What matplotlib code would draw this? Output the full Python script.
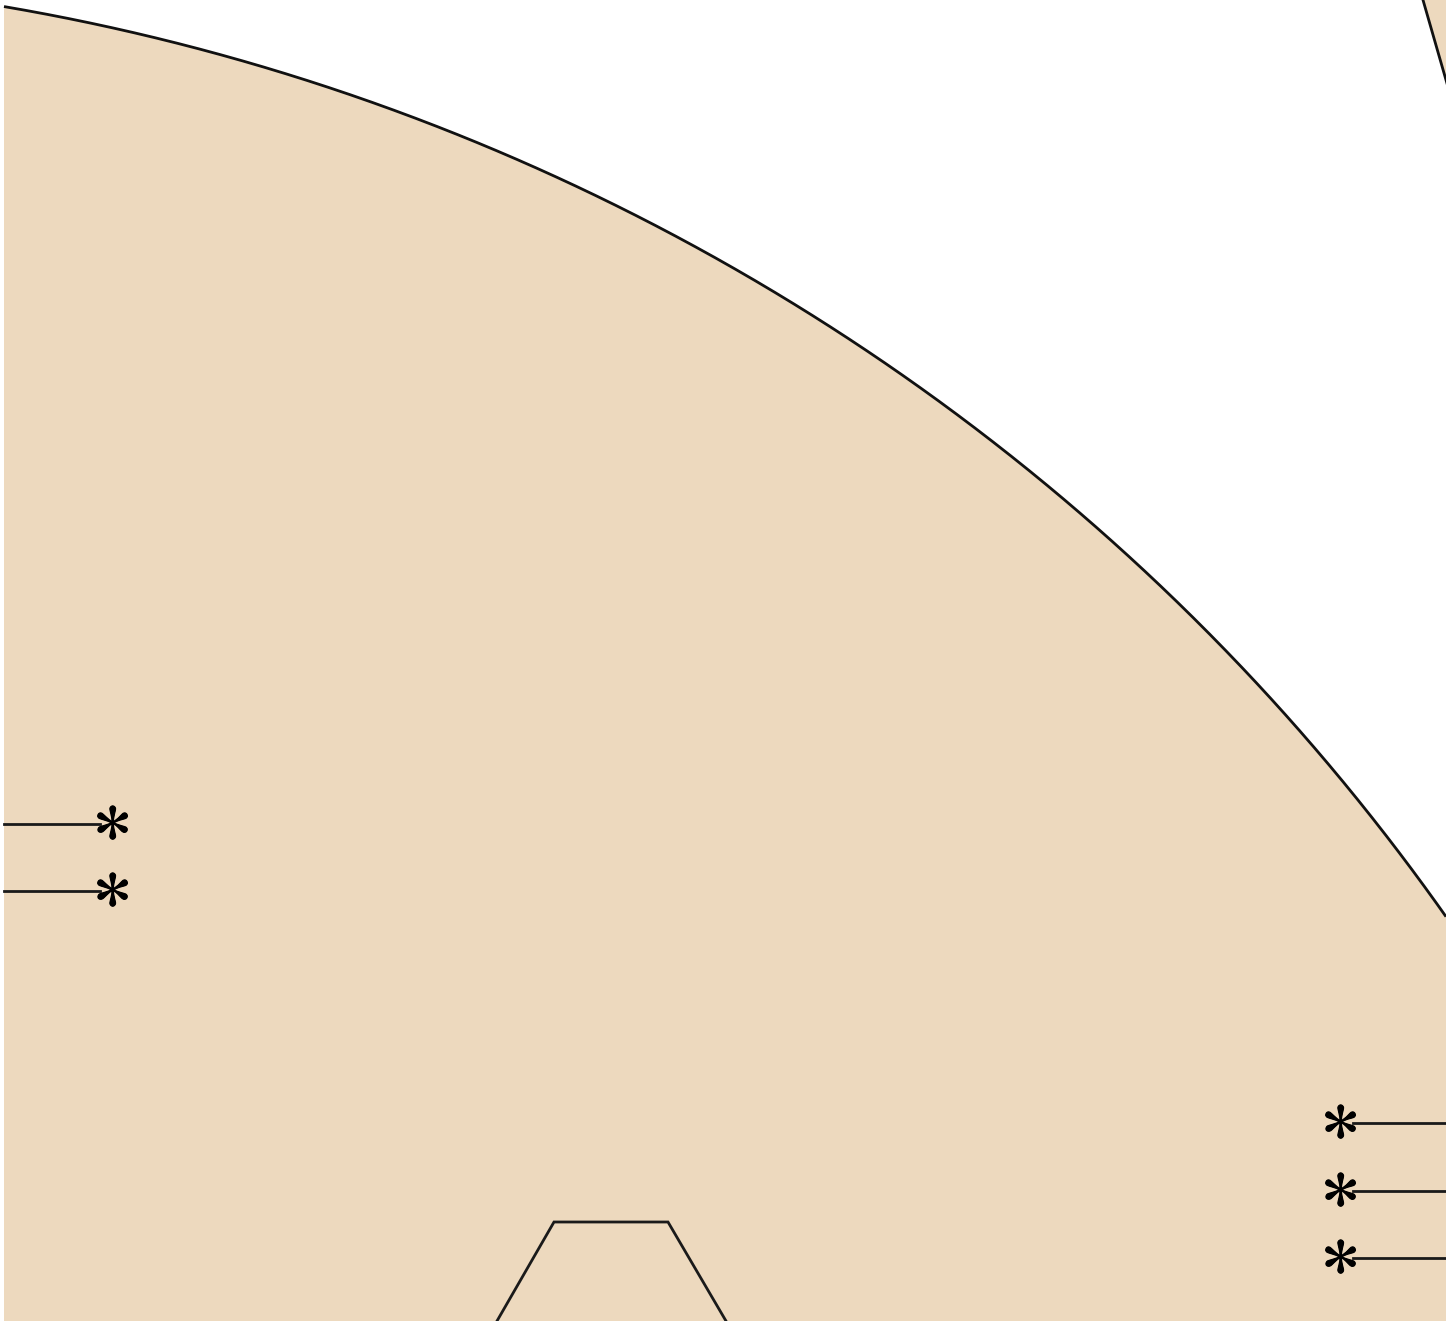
import numpy as np
import matplotlib
matplotlib.use("Agg")
import matplotlib.pyplot as plt
import matplotlib.patheffects as pe
from matplotlib.patches import Polygon

plt.rcParams['mathtext.fontset'] = 'stix'

# ---- data (in the chart's own coordinate space) ----
FILL = '#EDD9BE'
EDGE = '#111111'

arc_center_x = -369.0
arc_center_y = 2195.0
arc_radius = 2220.0
arc_x_range = [4.0, 1446.0]

left_bracket_y = [824, 891]
left_bracket_x = [4, 100]
left_star_x = 111

right_bracket_y = [1123, 1191, 1258]
right_bracket_x = [1353, 1446]
right_star_x = 1339

trap_x = [497, 554, 668, 726]
trap_y = [1321, 1222, 1222, 1321]

corner_edge_x = [1423, 1446]
corner_edge_y = [0, 80]

W, H = 1446, 1321
STAR_SIZE = 55
STAR_SHIFT = -2.5  # glyph sits slightly low when centred
LW = 2.0

fig = plt.figure(figsize=(W / 100, H / 100), dpi=100)
ax = fig.add_axes([0, 0, 1, 1])
ax.set_xlim(0, W)
ax.set_ylim(H, 0)
ax.axis('off')

# main shape bounded by arc
xs = np.linspace(arc_x_range[0], arc_x_range[1], 800)
ys = arc_center_y - np.sqrt(arc_radius ** 2 - (xs - arc_center_x) ** 2)
verts = list(zip(xs, ys)) + [(arc_x_range[1] + 20, ys[-1]), (arc_x_range[1] + 20, H + 20),
                              (arc_x_range[0], H + 20)]
ax.add_patch(Polygon(verts, closed=True, facecolor=FILL, edgecolor='none', zorder=1))
ax.plot(xs, ys, color=EDGE, lw=LW, zorder=3, solid_capstyle='butt')

# top-right corner shape
slope = (corner_edge_y[1] - corner_edge_y[0]) / (corner_edge_x[1] - corner_edge_x[0])
ext_x = corner_edge_x[1] + 20
ext_y = corner_edge_y[0] + slope * (ext_x - corner_edge_x[0])
top_x = corner_edge_x[0] - 20 / slope
ax.add_patch(Polygon([(top_x, -20), (ext_x, ext_y), (ext_x, -20)],
                     closed=True, facecolor=FILL, edgecolor='none', zorder=1))
ax.plot([top_x, ext_x], [-20, ext_y], color=EDGE, lw=LW, zorder=3)

# trapezoid outline
ax.plot(trap_x, trap_y, color='#1a1a1a', lw=LW, zorder=3, solid_joinstyle='miter')

# bracket lines with asterisks
star_fx = [pe.withStroke(linewidth=0.8, foreground='black')]
for y in left_bracket_y:
    ax.plot(left_bracket_x, [y, y], color='#1a1a1a', lw=LW, zorder=3)
    ax.text(left_star_x, y + STAR_SHIFT, r'$\ast$', fontsize=STAR_SIZE, ha='center',
            va='center', color='black', zorder=4, path_effects=star_fx)
for y in right_bracket_y:
    ax.plot(right_bracket_x, [y, y], color='#1a1a1a', lw=LW, zorder=3)
    ax.text(right_star_x, y + STAR_SHIFT, r'$\ast$', fontsize=STAR_SIZE, ha='center',
            va='center', color='black', zorder=4, path_effects=star_fx)

fig.savefig('out.png', dpi=100, facecolor='white')
